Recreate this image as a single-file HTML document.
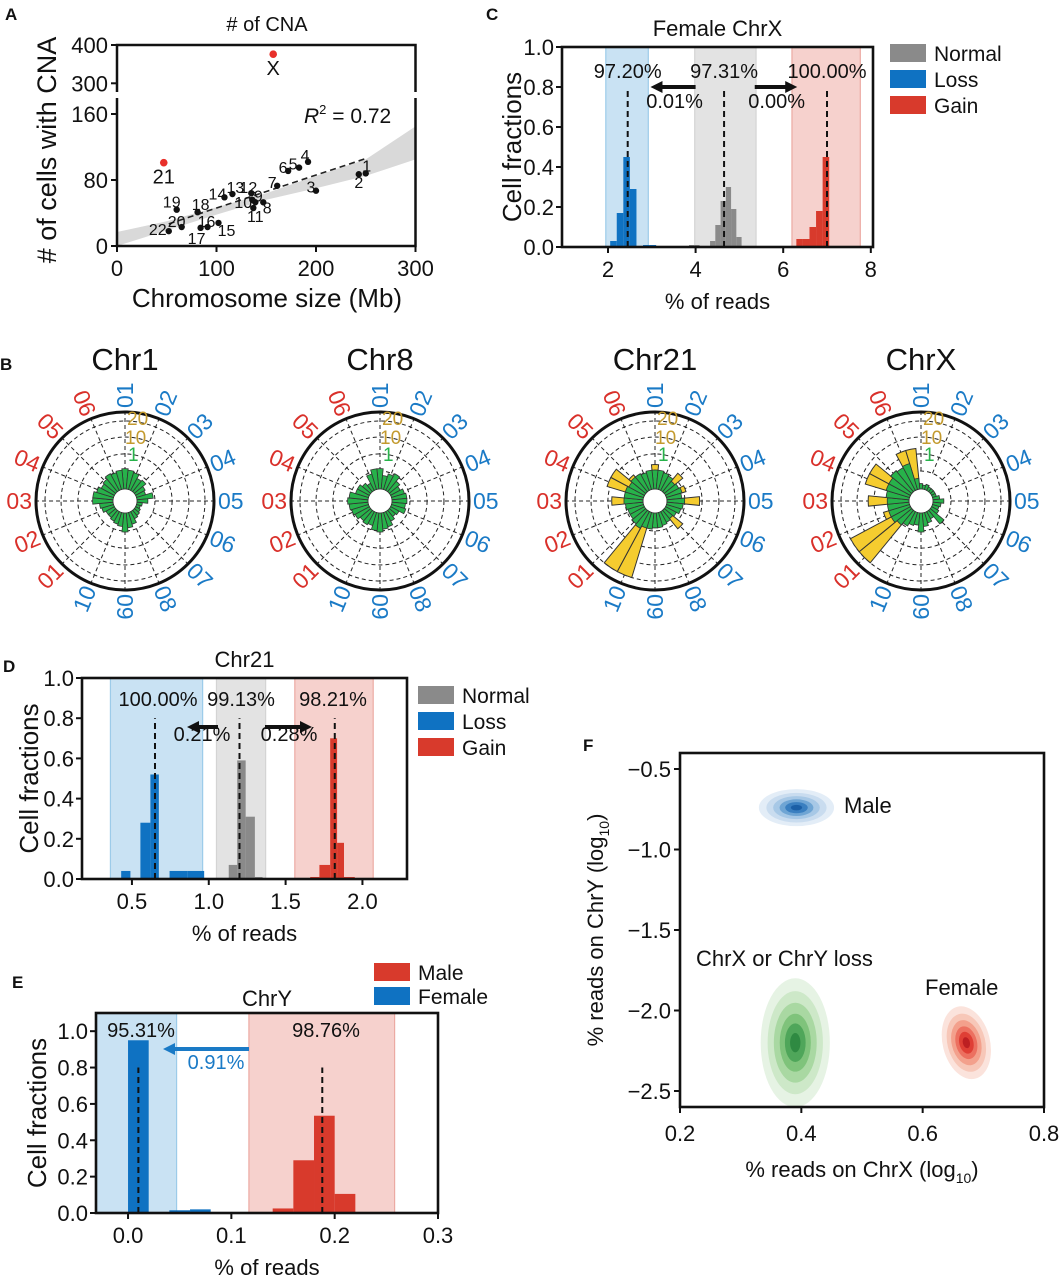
<!DOCTYPE html>
<html><head><meta charset="utf-8"><style>
html,body{margin:0;padding:0;background:#fff;}
svg{display:block;font-family:"Liberation Sans",Arial,sans-serif;}
</style></head><body>
<svg id="fig" width="1061" height="1280" viewBox="0 0 1061 1280" xmlns="http://www.w3.org/2000/svg"></svg>
<script>
// ---------- Panel A data ----------
const aLabels = ["1","2","3","4","5","6","7","8","9","10","11","12","13","14","15","16","17","18","19","20","22"];
const aSize   = [250,243,200,192,183,172,161,147,139,136,137,135,116,108,102,91,84,81,60,65,52];
const aCount  = [88,87,67,102,95,91,73,53,53,56,46,64,63,59,28,23,22,41,44,23,18];
const aOutLabels = ["21","X"];
const aOutSize = [47,157];
const aOutCount = [101,376];
const aFitA = 6, aFitB = 0.4;
const aBandX  = [0,50,100,150,200,250,300];
const aBandLo = [0,19,38,56,70,85,105];
const aBandHi = [17,30,47,64,85,105,145];
// ---------- Panel C data ----------
const cBlueL = [2.05,2.2,2.35,2.5,2.8,2.95,3.1], cBlueH=[0.03,0.17,0.45,0.29,0.01,0.01,0.005], cBlueW=0.15;
const cGrayL = [3.85,3.97,4.33,4.45,4.57,4.69,4.81,4.93,5.05], cGrayH=[0.01,0.01,0.03,0.11,0.23,0.30,0.19,0.05,0.005], cGrayW=0.12;
const cRedL = [6.3,6.45,6.6,6.75,6.9], cRedH=[0.04,0.04,0.10,0.18,0.45], cRedW=0.15;
const cBands = [[1.95,2.92],[3.98,5.38],[6.2,7.76]];
const cMeans = [2.45,4.65,7.0];
const cPct = ["97.20%","97.31%","100.00%"];
const cMove = ["0.01%","0.00%"];
// ---------- Panel D data ----------
const dBlueL=[0.43,0.555,0.62,0.745,0.86], dBlueH=[0.04,0.28,0.52,0.04,0.04], dBlueW=[0.06,0.065,0.055,0.115,0.11];
const dGrayL=[1.13,1.185,1.24,1.30], dGrayH=[0.07,0.59,0.31,0.01], dGrayW=[0.055,0.055,0.06,0.05];
const dRedL=[1.66,1.72,1.79,1.835,1.88], dRedH=[0.01,0.07,0.70,0.18,0.01], dRedW=[0.06,0.07,0.045,0.045,0.07];
const dBands=[[0.36,0.96],[1.05,1.37],[1.56,2.07]];
const dMeans=[0.65,1.2,1.82];
const dPct=["100.00%","99.13%","98.21%"];
const dMove=["0.21%","0.28%"];
// ---------- Panel E data ----------
const eBlueL=[0.0,0.04,0.06], eBlueH=[0.95,0.015,0.02], eW=0.02;
const eRedL=[0.14,0.16,0.18,0.20,0.22], eRedH=[0.025,0.29,0.535,0.105,0.005];
const eBands=[[-0.031,0.047],[0.117,0.258]];
const eMeans=[0.01,0.188];
const ePct=["95.31%","98.76%"];
const eMove="0.91%";
// ---------- Panel B data (32 wedges clockwise from top) ----------
const bTitles=["Chr1","Chr8","Chr21","ChrX"];
const chr1G=[7.5,7,6.5,5,5.5,4,3.5,6,4,2,1.5,2,2.5,3,4.5,5.5,7,5,4.5,4,3.5,3.5,4.5,5,7.5,7.5,6.5,5.5,6,7,6.5,7];
const chr1Y=[0,0,0,0,0,0,0,0,0,0,0,0,0,0,0,0,0,0,0,0,0,0,0,0,0,0,0,0,0,0,0,0];
const chr8G=[7.5,5,6,7,5,4,5,5.5,5.5,5,5.5,3.5,3,4,5.5,6,7,6.5,5,5.5,5,6,6.5,7,7.5,7,5,5,4,3,6,7.5];
const chr8Y=[0,0,0,0,0,0,0,0,0,0,0,0,0,0,0,0,0,0,0,0,0,0,0,0,0,0,0,0,0,0,0,0];
const chr21G=[7,7,6.5,6,5,5.5,6,5.5,6.5,6,5.5,4.5,4,4.5,5,5.5,5.5,6,6,7,6.5,6,6,6.5,7,7,7,6.5,7,7,6.5,7];
const chr21Y=[9,0,0,0,8.8,0,7.5,0,12,0,0,0,8.8,0,0,0,0,0,25,25,0,0,0,0,11.5,0,14,14,8,0,0,0];
const chrXG=[2,1.5,2,1.5,1.5,1.5,1.5,2.5,4,3,2.5,3,6.5,3,4,5,7,4.5,5,6,7,8,8,8,8,8.5,9,9,10,9.5,10,4];
const chrXY=[0,0,0,0,0,0,0,0,0,0,0,0,0,0,0,0,0,0,0,0,25,25,10,0,15,0,17,17,10,0,15,15];
const bRingVals=[6.6,12.9,19.1,25];
const bBlueLab=["01","02","03","04","05","06","07","08","09","10"];
const bRedLab=["01","02","03","04","05","06"];
// ---------- Panel F data ----------
const fNames=["male","loss","female"];
const fCx=[0.392,0.39,0.672], fCy=[-0.74,-2.2,-2.2];
const fSx=[0.062,0.057,0.039], fSy=[0.115,0.40,0.23];
const fLevels=[1,0.8,0.62,0.45,0.3,0.15];

const NS="http://www.w3.org/2000/svg";
const svg=document.getElementById('fig');
function mk(tag,attrs,name,parent){
  const el=document.createElementNS(NS,tag);
  for(const k in attrs) el.setAttribute(k,attrs[k]);
  
  
  (parent||svg).appendChild(el);
  return el;
}
function txt(x,y,s,size,name,extra,parent){
  const a=Object.assign({x:x,y:y,'font-size':size,fill:'#111'},extra||{});
  const t=mk('text',a,name,parent); t.textContent=s; return t;
}
const BLUE="#0f72c2",GRAY="#8a8a8a",RED="#d83a2c";
const BBAND="#c9e2f3",GBAND="#e3e3e3",RBAND="#f6d1cd";
const LBLUE="#1a7ac6",LRED="#d9302a",GOLD="#c39a2e",GREEN="#27b24a",YEL="#f5cc2f";

txt(5,20,"A",17,"panel-label-a",{'font-weight':'bold'});
txt(486,20,"C",17,"panel-label-c",{'font-weight':'bold'});
txt(0,370,"B",17,"panel-label-b",{'font-weight':'bold'});
txt(3,672,"D",17,"panel-label-d",{'font-weight':'bold'});
txt(12,988,"E",17,"panel-label-e",{'font-weight':'bold'});
txt(583,751,"F",17,"panel-label-f",{'font-weight':'bold'});

// ================= Panel A =================
(function(){
  const g=mk('g',{},'panel-a');
  const X0=117,XS=0.995,YL0=246,YLS=0.825;
  const x=v=>X0+v*XS, yl=v=>YL0-v*YLS, yu=v=>45+(400-v)*0.383;
  const L=x(0),R=x(300);
  let pts=[];
  aBandX.forEach((v,i)=>pts.push(x(v)+','+Math.min(yl(aBandHi[i]),YL0)));
  for(let i=aBandX.length-1;i>=0;i--) pts.push(x(aBandX[i])+','+Math.min(yl(aBandLo[i]),YL0));
  mk('polygon',{points:pts.join(' '),fill:'#d9d9d9'},'confidence-band',g);
  mk('line',{x1:x(52),y1:yl(aFitA+aFitB*52),x2:x(250),y2:yl(aFitA+aFitB*250),stroke:'#222','stroke-width':1.6,'stroke-dasharray':'6,4'},'regression-line',g);
  mk('path',{d:`M${L},92 V45 H${R} V92`,fill:'none',stroke:'#111','stroke-width':2.5},'upper-frame',g);
  mk('path',{d:`M${L},98 V${YL0} H${R} V98`,fill:'none',stroke:'#111','stroke-width':2.5},'lower-frame',g);
  [300,400].forEach(v=>{mk('line',{x1:L-6,y1:yu(v),x2:L,y2:yu(v),stroke:'#111','stroke-width':2},'y-tick',g);
    txt(L-9,yu(v)+8,String(v),22,'y-tick-label',{'text-anchor':'end'},g);});
  [0,80,160].forEach(v=>{mk('line',{x1:L-6,y1:yl(v),x2:L,y2:yl(v),stroke:'#111','stroke-width':2},'y-tick',g);
    txt(L-9,yl(v)+8,String(v),22,'y-tick-label',{'text-anchor':'end'},g);});
  [0,100,200,300].forEach(v=>{mk('line',{x1:x(v),y1:YL0,x2:x(v),y2:YL0+6,stroke:'#111','stroke-width':2},'x-tick',g);
    txt(x(v),YL0+30,String(v),22,'x-tick-label',{'text-anchor':'middle'},g);});
  txt(267,31,"# of CNA",20,'chart-title',{'text-anchor':'middle'},g);
  txt(267,307,"Chromosome size (Mb)",26,'x-axis-title',{'text-anchor':'middle'},g);
  txt(0,0,"# of cells with CNA",27,'y-axis-title',{'text-anchor':'middle',transform:'translate(56,150) rotate(-90)'},g);
  const r2=txt(304,123,"",21,'r-squared',{},g);
  r2.innerHTML='<tspan font-style="italic">R</tspan><tspan font-size="13" dy="-9">2</tspan><tspan dy="9"> = 0.72</tspan>';
  const off=[[1,-8],[0,8],[-5,-4],[-3,-7],[-6,-4],[-5,-4],[-5,-4],[4,5],[3,-7],[-9,2],[2,8],[-3,-6],[3,-7],[-7,-4],[8,7],[-1,-6],[-4,10],[3,-8],[-5,-8],[-5,-6],[-11,-2]];
  aSize.forEach((s,i)=>{
    mk('circle',{cx:x(s),cy:yl(aCount[i]),r:3.2,fill:'#111'},'point-chr'+aLabels[i],g);
    txt(x(s)+off[i][0],yl(aCount[i])+off[i][1]+6,aLabels[i],16,'point-label',{'text-anchor':'middle'},g);
  });
  aOutSize.forEach((s,i)=>{
    const yy=aOutCount[i]>200?yu(aOutCount[i]):yl(aOutCount[i]);
    mk('circle',{cx:x(s),cy:yy,r:3.8,fill:'#e8302a'},'outlier-point',g);
    txt(x(s),yy+21,aOutLabels[i],20,'outlier-label',{'text-anchor':'middle'},g);
  });
})();

function histPanel(o){
  const g=mk('g',{},o.name);
  const x=v=>o.L+(v-o.xmin)/(o.xmax-o.xmin)*(o.R-o.L);
  const y=v=>o.B-(v-o.ymin)/(o.ymax-o.ymin)*(o.B-o.T);
  o.bands.forEach((b,i)=>{
    mk('rect',{x:x(b[0]),y:o.T,width:x(b[1])-x(b[0]),height:o.B-o.T,fill:o.bandFill[i],stroke:o.bandStroke[i],'stroke-width':1.2},'band-'+i,g);
  });
  o.series.forEach(s=>{
    s.L.forEach((l,i)=>{
      const w=Array.isArray(s.W)?s.W[i]:s.W;
      mk('rect',{x:x(l),y:y(s.H[i]),width:x(l+w)-x(l),height:o.B-y(s.H[i]),fill:s.color},s.name+'-bar',g);
    });
  });
  o.means.forEach(m=>mk('line',{x1:x(m),y1:o.B,x2:x(m),y2:y(0.8),stroke:'#111','stroke-width':2,'stroke-dasharray':'6,4'},'mean-line',g));
  mk('rect',{x:o.L,y:o.T,width:o.R-o.L,height:o.B-o.T,fill:'none',stroke:'#111','stroke-width':2.6},'plot-frame',g);
  o.yt.forEach(v=>{mk('line',{x1:o.L-6,y1:y(v),x2:o.L,y2:y(v),stroke:'#111','stroke-width':2},'y-tick',g);
    txt(o.L-8,y(v)+8,v.toFixed(1),22,'y-tick-label',{'text-anchor':'end'},g);});
  o.xt.forEach(v=>{mk('line',{x1:x(v),y1:o.B,x2:x(v),y2:o.B+6,stroke:'#111','stroke-width':2},'x-tick',g);
    txt(x(v),o.B+30,v.toFixed(o.xdec),22,'x-tick-label',{'text-anchor':'middle'},g);});
  txt((o.L+o.R)/2,o.titleY,o.title,22,'chart-title',{'text-anchor':'middle'},g);
  txt((o.L+o.R)/2,o.B+62,"% of reads",22,'x-axis-title',{'text-anchor':'middle'},g);
  txt(0,0,"Cell fractions",26,'y-axis-title',{'text-anchor':'middle',transform:`translate(${o.ylx},${(o.T+o.B)/2}) rotate(-90)`},g);
  o.leg.forEach((l,i)=>{
    mk('rect',{x:o.legX,y:o.legY+i*o.legDy-9,width:36,height:18,fill:l[1]},'legend-swatch',g);
    txt(o.legX+44,o.legY+i*o.legDy+8,l[0],21,'legend-entry',{},g);
  });
  return {g,x,y};
}
function arrow(g,x1,x2,y,color,name){
  const d=x2>x1?1:-1;
  mk('line',{x1:x1,y1:y,x2:x2-d*10,y2:y,stroke:color,'stroke-width':4},name,g);
  mk('polygon',{points:`${x2},${y} ${x2-d*12},${y-6} ${x2-d*12},${y+6}`,fill:color},name+'-head',g);
}

(function(){
  const p=histPanel({name:'panel-c',L:562,R:873,T:47,B:247,xmin:0.95,xmax:8.05,ymin:0,ymax:1,
    bands:cBands,bandFill:[BBAND,GBAND,RBAND],bandStroke:['#9ccbe9','#d4d4d4','#ecaaa3'],
    series:[{L:cBlueL,H:cBlueH,W:cBlueW,color:BLUE,name:'loss'},{L:cGrayL,H:cGrayH,W:cGrayW,color:GRAY,name:'normal'},{L:cRedL,H:cRedH,W:cRedW,color:RED,name:'gain'}],
    means:cMeans,yt:[0,0.2,0.4,0.6,0.8,1.0],xt:[2,4,6,8],xdec:0,title:"Female ChrX",titleY:36,ylx:521,
    leg:[["Normal",GRAY],["Loss",BLUE],["Gain",RED]],legX:890,legY:53,legDy:26});
  cMeans.forEach((m,i)=>txt(p.x(m),78,cPct[i],20,'percent-label',{'text-anchor':'middle'},p.g));
  arrow(p.g,p.x(4.0),p.x(2.97),87,'#111','arrow-to-loss');
  arrow(p.g,p.x(5.35),p.x(6.32),87,'#111','arrow-to-gain');
  txt(p.x(3.52),108,cMove[0],20,'move-label',{'text-anchor':'middle'},p.g);
  txt(p.x(5.85),108,cMove[1],20,'move-label',{'text-anchor':'middle'},p.g);
})();

(function(){
  const p=histPanel({name:'panel-d',L:82,R:407,T:678,B:879,xmin:0.175,xmax:2.29,ymin:0,ymax:1,
    bands:dBands,bandFill:[BBAND,GBAND,RBAND],bandStroke:['#9ccbe9','#d4d4d4','#ecaaa3'],
    series:[{L:dBlueL,H:dBlueH,W:dBlueW,color:BLUE,name:'loss'},{L:dGrayL,H:dGrayH,W:dGrayW,color:GRAY,name:'normal'},{L:dRedL,H:dRedH,W:dRedW,color:RED,name:'gain'}],
    means:dMeans,yt:[0,0.2,0.4,0.6,0.8,1.0],xt:[0.5,1.0,1.5,2.0],xdec:1,title:"Chr21",titleY:667,ylx:38,
    leg:[["Normal",GRAY],["Loss",BLUE],["Gain",RED]],legX:418,legY:695,legDy:26});
  txt(158,706,dPct[0],20,'percent-label',{'text-anchor':'middle'},p.g);
  txt(241,706,dPct[1],20,'percent-label',{'text-anchor':'middle'},p.g);
  txt(333,706,dPct[2],20,'percent-label',{'text-anchor':'middle'},p.g);
  arrow(p.g,218,187,727,'#111','arrow-to-loss');
  arrow(p.g,265,312,727,'#111','arrow-to-gain');
  txt(202,741,dMove[0],20,'move-label',{'text-anchor':'middle'},p.g);
  txt(289,741,dMove[1],20,'move-label',{'text-anchor':'middle'},p.g);
})();

(function(){
  const p=histPanel({name:'panel-e',L:96,R:438,T:1013,B:1213,xmin:-0.031,xmax:0.3,ymin:0,ymax:1.1,
    bands:eBands,bandFill:[BBAND,RBAND],bandStroke:['#9ccbe9','#ecaaa3'],
    series:[{L:eBlueL,H:eBlueH,W:eW,color:BLUE,name:'female'},{L:eRedL,H:eRedH,W:eW,color:RED,name:'male'}],
    means:eMeans,yt:[0,0.2,0.4,0.6,0.8,1.0],xt:[0,0.1,0.2,0.3],xdec:1,title:"ChrY",titleY:1006,ylx:46,
    leg:[["Male",RED],["Female",BLUE]],legX:374,legY:972,legDy:24});
  txt(141,1037,ePct[0],20,'percent-label',{'text-anchor':'middle'},p.g);
  txt(326,1037,ePct[1],20,'percent-label',{'text-anchor':'middle'},p.g);
  arrow(p.g,249,163,1049,LBLUE,'arrow-to-female');
  mk('line',{x1:249,y1:1049,x2:170,y2:1049,stroke:LBLUE,'stroke-width':3},'arrow-shaft',p.g);
  txt(216,1069,eMove,20,'move-label',{'text-anchor':'middle',fill:LBLUE},p.g);
})();

(function(){
  const centers=[125,380,655,921], CY=501, R0=12, K=2.72, OUT=89;
  const data=[[chr1G,chr1Y],[chr8G,chr8Y],[chr21G,chr21Y],[chrXG,chrXY]];
  const rad=v=>R0+v*K;
  function pt(cx,r,deg){const a=(deg-90)*Math.PI/180;return [cx+r*Math.cos(a),CY+r*Math.sin(a)];}
  function wedge(cx,r,a0,a1){const p1=pt(cx,R0,a0),p2=pt(cx,r,a0),p3=pt(cx,r,a1),p4=pt(cx,R0,a1);
    return `M${p1} L${p2} A${r},${r} 0 0 1 ${p3} L${p4} A${R0},${R0} 0 0 0 ${p1}Z`;}
  centers.forEach((cx,ci)=>{
    const g=mk('g',{},'polar-'+bTitles[ci].toLowerCase());
    txt(cx,370,bTitles[ci],31,'polar-title',{'text-anchor':'middle'},g);
    bRingVals.forEach(v=>mk('circle',{cx:cx,cy:CY,r:rad(v),fill:'none',stroke:'#222','stroke-width':1,'stroke-dasharray':'4,3'},'grid-ring',g));
    for(let k=0;k<16;k++){const a=pt(cx,rad(bRingVals[0]),k*22.5),b=pt(cx,OUT,k*22.5);
      mk('line',{x1:a[0],y1:a[1],x2:b[0],y2:b[1],stroke:'#222','stroke-width':1,'stroke-dasharray':'4,3'},'grid-spoke',g);}
    const [G,Y]=data[ci];
    Y.forEach((v,i)=>{ if(v>0){const a0=i*11.25-5.6,a1=a0+11.25;
      mk('path',{d:wedge(cx,rad(v),a0,a1),fill:YEL,stroke:'#333','stroke-width':1},'gain-wedge',g);}});
    G.forEach((v,i)=>{const a0=i*11.25-5.6,a1=a0+11.25;
      mk('path',{d:wedge(cx,rad(v),a0,a1),fill:GREEN,stroke:'#333','stroke-width':0.8},'normal-wedge',g);});
    mk('circle',{cx:cx,cy:CY,r:OUT,fill:'none',stroke:'#111','stroke-width':3},'outer-circle',g);
    txt(cx+2,CY-76,"20",19,'radial-tick-20',{fill:GOLD},g);
    txt(cx,CY-57,"10",19,'radial-tick-10',{fill:GOLD},g);
    txt(cx+3,CY-40,"1",19,'radial-tick-1',{fill:GREEN},g);
    const labs=bBlueLab.map(s=>[s,LBLUE]).concat(bRedLab.map(s=>[s,LRED]));
    labs.forEach((l,k)=>{
      const th=k*22.5, p=pt(cx,OUT+4,th);
      let rot,anchor;
      if(th<=180){rot=th-90;anchor='start';}else{rot=th-270;anchor='end';}
      txt(p[0],p[1],l[0],23,'sector-label',{fill:l[1],'text-anchor':anchor,'dominant-baseline':'central',transform:`rotate(${rot},${p[0]},${p[1]})`},g);
    });
  });
})();

(function(){
  const g=mk('g',{},'panel-f');
  const L=680,R=1044,T=753,B=1107;
  const x=v=>L+(v-0.2)/0.6*(R-L), y=v=>769+(-0.5-v)*161;
  const pal={male:['#e3edf7','#c9dcef','#a7c8e6','#6fa5d4','#3a7fc0','#1b5fa6'],
    loss:['#e6f3e4','#cde8c8','#a9d8a2','#7fc37b','#4fa65a','#2f8a42'],
    female:['#fbe3dc','#f7c7b8','#f3a08c','#ec7060','#df3f35','#bd1f22']};
  const tilt=[0,0,-14];
  fNames.forEach((n,i)=>{
    fLevels.forEach((f,j)=>{
      const rx=fSx[i]*f/0.6*(R-L), ry=fSy[i]*f*161;
      mk('ellipse',{cx:x(fCx[i]),cy:y(fCy[i]),rx:rx,ry:ry,fill:pal[n][j],transform:`rotate(${tilt[i]},${x(fCx[i])},${y(fCy[i])})`},'density-'+n,g);
    });
  });
  mk('rect',{x:L,y:T,width:R-L,height:B-T,fill:'none',stroke:'#111','stroke-width':2.6},'plot-frame',g);
  [-0.5,-1.0,-1.5,-2.0,-2.5].forEach(v=>{mk('line',{x1:L-6,y1:y(v),x2:L,y2:y(v),stroke:'#111','stroke-width':2},'y-tick',g);
    txt(L-9,y(v)+8,'\u2212'+Math.abs(v).toFixed(1),22,'y-tick-label',{'text-anchor':'end'},g);});
  [0.2,0.4,0.6,0.8].forEach(v=>{mk('line',{x1:x(v),y1:B,x2:x(v),y2:B+6,stroke:'#111','stroke-width':2},'x-tick',g);
    txt(x(v),B+34,v.toFixed(1),22,'x-tick-label',{'text-anchor':'middle'},g);});
  txt(844,813,"Male",22,'cluster-label-male',{},g);
  txt(696,966,"ChrX or ChrY loss",22,'cluster-label-loss',{},g);
  txt(925,995,"Female",22,'cluster-label-female',{},g);
  const xl=txt(862,1177,"",22,'x-axis-title',{'text-anchor':'middle'},g);
  xl.innerHTML='% reads on ChrX (log<tspan font-size="14" dy="6">10</tspan><tspan dy="-6">)</tspan>';
  const yl=txt(0,0,"",22,'y-axis-title',{'text-anchor':'middle',transform:'translate(603,930) rotate(-90)'},g);
  yl.innerHTML='% reads on ChrY (log<tspan font-size="14" dy="6">10</tspan><tspan dy="-6">)</tspan>';
})();
</script>
</body></html>
